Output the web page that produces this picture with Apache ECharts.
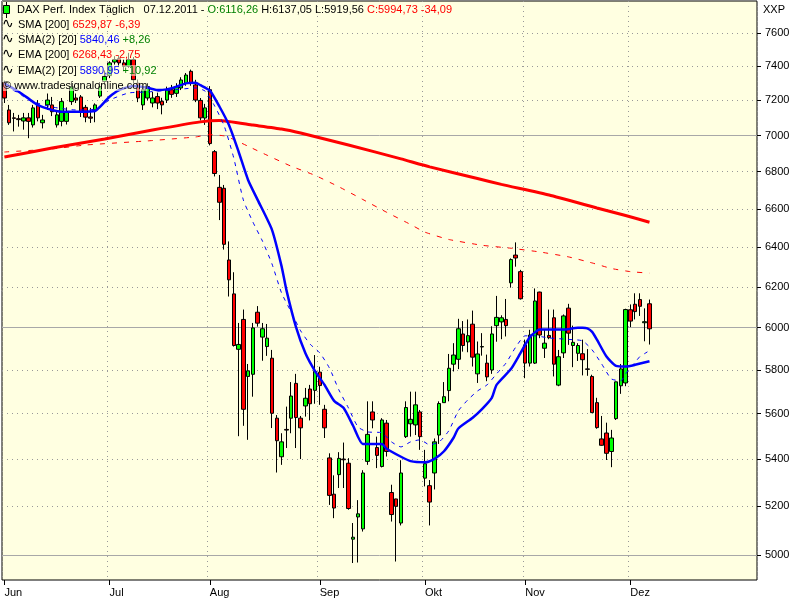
<!DOCTYPE html>
<html><head><meta charset="utf-8">
<script src="https://cdn.jsdelivr.net/npm/echarts@6/dist/echarts.min.js"></script>
<style>html,body{margin:0;padding:0;background:#fff}#c{width:800px;height:600px}</style>
</head><body><div id="c"></div><script>
const months = ['Jun','Jul','Aug','Sep','Okt','Nov','Dez'];
const monthNums = ['06','07','08','09','10','11','12'];
const tradingDays = [
 [1,2,3,6,7,8,9,10,13,14,15,16,17,20,21,22,23,24,27,28,29,30],
 [1,4,5,6,7,8,11,12,13,14,15,18,19,20,21,22,25,26,27,28,29],
 [1,2,3,4,5,8,9,10,11,12,15,16,17,18,19,22,23,24,25,26,29,30,31],
 [1,2,5,6,7,8,9,12,13,14,15,16,19,20,21,22,23,26,27,28,29,30],
 [3,4,5,6,7,10,11,12,13,14,17,18,19,20,21,24,25,26,27,28,31],
 [1,2,3,4,7,8,9,10,11,14,15,16,17,18,21,22,23,24,25,28,29,30],
 [1,2,5,6,7]
];
const emptySlots = 22;
const yTicks = [5000,5200,5400,5600,5800,6000,6200,6400,6600,6800,7000,7200,7400,7600];
const yMajor = [5000,6000,7000];

const open = [7305,7145,7100,7095,7082,7100,7060,7174,7072,7174,7174,7060,7080,7080,7193,7214,7220,7160,7105,7145,7225,7310,
 7345,7425,7445,7420,7400,7440,7300,7174,7214,7185,7222,7195,7202,7262,7241,7272,7300,7370,7290,7200,7099,
 7262,6910,6715,6710,6335,6165,5897,6040,5770,5780,6075,5955,5910,5855,5580,5410,5530,5580,5738,5580,5635,5712,5706,
 5790,5620,5405,5250,5333,5400,5382,5064,5155,5106,5390,5608,5450,5368,5558,5257,5230,5130,5498,5555,5550,5608,
 5318,5286,5340,5505,5650,5705,5827,5850,5970,5932,6017,5782,5908,5832,5800,6010,6028,6040,6220,6360,6276,
 5918,5832,5832,6174,5902,5963,6048,5730,5880,6095,5915,5878,5876,5805,5770,5650,5488,5514,5433,5578,5727,5740,
 6087,6114,6137,6024,6116.26];
const close = [7214,7072,7097,7090,7100,7080,7157,7100,7088,7202,7135,7117,7193,7136,7280,7202,7132,7104,7098,7174,7280,7340,
 7420,7440,7420,7400,7440,7320,7214,7262,7280,7214,7185,7174,7260,7235,7280,7319,7348,7302,7202,7100,7157,
 6955,6790,6635,6415,6235,5915,5920,5620,5796,5999,6022,5995,5950,5602,5480,5475,5527,5680,5583,5537,5670,5645,5793,
 5728,5537,5245,5192,5403,5397,5190,5072,5168,5340,5508,5572,5416,5572,5433,5165,5199,5340,5628,5575,5640,5498,
 5380,5217,5475,5646,5677,5808,5870,5995,5915,5962,5860,5875,5910,5768,5970,6050,6048,6010,6337,6345,6141,
 5832,5965,6130,5965,5926,5952,5827,5862,6057,5974,5930,5915,5848,5803,5605,5538,5460,5425,5492,5745,5805,6088,
 6032,6078,6104,6029,5994.73];
const high = [7315,7174,7128,7117,7128,7128,7174,7202,7117,7240,7220,7145,7214,7160,7310,7240,7231,7174,7157,7183,7307,7375,
 7430,7460,7465,7440,7480,7455,7320,7280,7300,7250,7245,7215,7280,7290,7300,7335,7360,7380,7320,7214,7180,
 7283,6919,6782,6728,6430,6273,6023,6088,5828,6023,6105,6023,6018,5894,5594,5513,5632,5744,5782,5590,5717,5731,5870,
 5815,5640,5425,5330,5430,5472,5404,5130,5225,5352,5656,5656,5498,5580,5572,5290,5231,5395,5656,5700,5700,5617,
 5440,5310,5490,5656,5744,5875,5926,6043,6032,6040,6083,5934,5974,5872,6007,6155,6060,6140,6343,6425,6285,
 5943,5990,6192,6176,5990,6088,6088,5894,6064,6116,6010,5926,5943,5898,5778,5672,5590,5560,5528,5746,5828,6092,
 6113,6168,6168,6094,6137.05];
const low = [7185,7060,7023,7050,7033,6985,7045,7080,7040,7145,7110,7045,7052,7062,7174,7185,7105,7075,7071,7075,7214,7290,
 7330,7410,7395,7370,7390,7300,7190,7145,7200,7160,7150,7120,7185,7215,7220,7260,7285,7285,7190,7085,7060,
 6945,6774,6541,6388,6152,5910,5500,5546,5484,5677,6005,5843,5866,5536,5342,5375,5448,5513,5448,5400,5587,5570,5645,
 5640,5492,5205,5150,5276,5276,5185,4968,4970,5095,5375,5535,5361,5364,5411,5136,4974,5120,5492,5498,5505,5440,
 5283,5120,5270,5466,5650,5656,5793,5804,5886,5883,5816,5740,5867,5748,5782,5933,5945,5958,6196,6301,6137,
 5762,5816,5828,5950,5856,5945,5770,5725,5856,5918,5813,5842,5775,5773,5603,5533,5458,5396,5365,5572,5690,5725,
 6003,6040,6057,5935,5919.56];

// moving averages: [day index, value]
const sma20 = [[0,7299],[3,7250],[5,7212],[7,7173],[10,7145],[12,7135],[16,7135],[19,7139],[20,7163],[22,7221],[24,7260],[27,7283],[30,7273],[32,7260],[34,7264],[36,7279],[38,7299],[40,7302],[41,7289],[43,7257],[45,7165],[47,7059],[49,6911],[51,6755],[53,6648],[56,6490],[58,6304],[59,6186],[61,6005],[63,5878],[65,5795],[67,5731],[69,5658],[71,5626],[73,5545],[75,5466],[77,5466],[79,5466],[80,5445],[83,5410],[85,5391],[88,5386],[90,5401],[92,5434],[94,5493],[95,5534],[98,5582],[100,5622],[102,5672],[103,5731],[106,5804],[108,5879],[110,5956],[112,5991],[114,5992],[117,5991],[120,6000],[121,6000],[122,5997],[123,5980],[124,5943],[126,5863],[128,5819],[130,5816],[132,5824],[135,5840.46]];
const ema20 = [[0,7280],[3,7243],[5,7202],[10,7162],[15,7145],[19,7150],[22,7202],[26,7243],[30,7249],[35,7260],[40,7272],[42,7254],[44,7168],[46,7054],[48,6875],[50,6648],[52,6531],[54,6432],[56,6315],[58,6170],[60,6077],[62,5985],[64,5921],[66,5880],[68,5810],[70,5708],[72,5626],[74,5541],[76,5519],[79,5515],[81,5475],[83,5453],[85,5475],[87,5484],[89,5462],[91,5475],[93,5524],[95,5613],[97,5663],[99,5703],[101,5731],[103,5782],[105,5833],[107,5907],[109,5961],[111,5961],[114,5951],[118,5944],[121,5937],[123,5894],[125,5828],[127,5759],[129,5750],[130,5782],[131,5810],[132,5836],[133,5863],[134,5877],[135,5890.95]];
const sma200 = [[0,6880],[10,6930],[21,6981],[31,7031],[41,7077],[45,7085],[52,7059],[58,7037],[62,7014],[72,6947],[83,6870],[89,6826],[99,6763],[104,6731],[114,6674],[124,6605],[130,6565],[135,6529.87]];
const ema200 = [[0,6908],[10,6925],[17,6947],[30,6970],[40,6992],[43,7005],[46,6998],[48,6978],[51,6940],[55,6890],[60,6830],[65,6780],[70,6718],[75,6650],[80,6582],[85,6518],[88,6478],[93,6440],[100,6410],[106,6395],[112,6376],[118,6351],[123,6320],[127,6292],[131,6276],[135,6268.43]];

const cats = [];
const monthStart = {};
tradingDays.forEach((days, m) => {
  monthStart[cats.length] = months[m];
  days.forEach(d => cats.push(String(d).padStart(2,'0') + '.' + monthNums[m] + '.2011'));
});
for (let i = 0; i < emptySlots; i++) cats.push('');
const ohlc = open.map((o, i) => [o, close[i], low[i], high[i]]);
const isMonth = (i) => Object.prototype.hasOwnProperty.call(monthStart, i);

const FONT = 'Liberation Sans';
const yMin = 4900.8, yMax = 7797.6;

const chart = echarts.init(document.getElementById('c'), null, {renderer: 'canvas'});
const txt = (x, y, rich, text) => ({type:'text', x, y, z:100, style:{text, rich, font:'11px ' + FONT, fill:'#000', backgroundColor:'rgba(255,255,225,0.55)'}});
const rich = {
  k:{fill:'#000', font:'11px ' + FONT},
  g:{fill:'#008000', font:'11px ' + FONT},
  r:{fill:'#ff0000', font:'11px ' + FONT},
  b:{fill:'#0000ff', font:'11px ' + FONT}
};
const wave = (y) => ({type:'text', x:2, y:y-2, z:100, style:{text:'∿', font:'14px DejaVu Sans', fill:'#000'}});

chart.setOption({
  animation:false,
  backgroundColor:'#ffffff',
  grid:{left:2, right:43, top:1, bottom:20, show:true, backgroundColor:'#ffffe1', borderColor:'#000', borderWidth:1, containLabel:false},
  xAxis:{
    type:'category', data:cats, boundaryGap:true,
    axisLine:{show:false},
    axisTick:{show:true, alignWithLabel:true, length:5, interval:(i)=>isMonth(i), lineStyle:{color:'#000'}},
    axisLabel:{interval:(i)=>isMonth(i), formatter:(v, i)=>monthStart[i] || '', align:'left', margin:7, color:'#000', fontSize:11, fontFamily:FONT},
    splitLine:{show:true, interval:(i)=>isMonth(i), lineStyle:{color:'#999', type:[1,4], width:1}}
  },
  yAxis:[{
    type:'log', logBase:10, min:yMin, max:yMax, position:'right',
    axisLine:{show:false},
    axisTick:{show:true, length:4, customValues:yTicks, lineStyle:{color:'#000'}},
    axisLabel:{customValues:yTicks, color:'#000', fontSize:11, fontFamily:FONT, margin:8, formatter:(v)=>String(Math.round(v))},
    splitLine:{show:true, lineStyle:{color:'#999', type:[1,4], width:1}}
  },{
    type:'log', logBase:10, min:yMin, max:yMax, position:'right',
    axisLine:{show:false},
    axisTick:{show:false, customValues:yMajor},
    axisLabel:{show:false, customValues:yMajor},
    splitLine:{show:true, lineStyle:{color:'#a8a8a8', type:'solid', width:1}}
  }],
  series:[
    {type:'candlestick', data:ohlc, barWidth:4, z:3,
     itemStyle:{color:'#00ff00', color0:'#ff0000', borderColor:'#000', borderColor0:'#000', borderWidth:1}},
    {type:'line', data:sma200, showSymbol:false, z:4, smooth:0.15, lineStyle:{color:'#ff0000', width:3}},
    {type:'line', data:ema200, showSymbol:false, z:4, smooth:0.15, lineStyle:{color:'#ff0000', width:1, type:[5,7]}},
    {type:'line', data:sma20, showSymbol:false, z:5, smooth:0.2, lineStyle:{color:'#0000ff', width:2.5}},
    {type:'line', data:ema20, showSymbol:false, z:5, smooth:0.2, lineStyle:{color:'#0000ff', width:1, type:[4,5]}}
  ],
  graphic:[
    {type:'line', z:100, shape:{x1:6.5, y1:2, x2:6.5, y2:18}, style:{stroke:'#000', lineWidth:1}},
    {type:'rect', z:101, shape:{x:3.5, y:5.5, width:6, height:8}, style:{fill:'#00ff00', stroke:'#000', lineWidth:1}},
    txt(17, 4, rich, '{k|DAX Perf. Index Täglich   07.12.2011 - }{g|O:6116,26}{k| H:6137,05 L:5919,56 }{r|C:5994,73 -34,09}'),
    wave(19), txt(18, 19, rich, '{k|SMA [200] }{r|6529,87 -6,39}'),
    wave(34), txt(18, 34, rich, '{k|SMA(2) [20] }{b|5840,46 }{g|+8,26}'),
    wave(49), txt(18, 49, rich, '{k|EMA [200] }{r|6268,43 -2,75}'),
    wave(65), txt(18, 65, rich, '{k|EMA(2) [20] }{b|5890,95 }{g|+10,92}'),
    txt(3, 80, rich, '{k|© www.tradesignalonline.com}'),
    {type:'text', x:763, y:4, z:100, style:{text:'XXP', font:'11px ' + FONT, fill:'#000'}}
  ]
});
</script></body></html>
